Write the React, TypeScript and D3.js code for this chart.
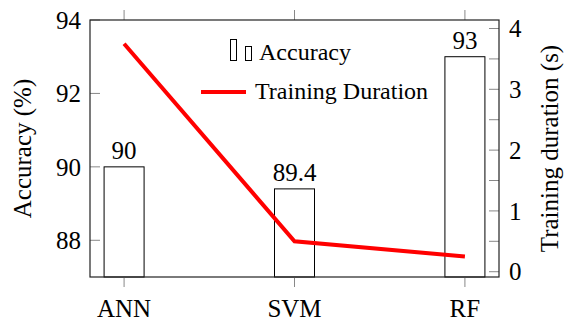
import React from 'react';
import * as d3 from 'd3';

// chart data
const models = ['ANN', 'SVM', 'RF'];
const accuracy = [90, 89.4, 93];
const duration = [3.75, 0.5, 0.25];
const accTicks = [88, 90, 92, 94];
const durTicks = [0, 1, 2, 3, 4];
const durMinor = [0, 0.5, 1, 1.5, 2, 2.5, 3, 3.5, 4];

const W = 564;
const H = 322;
const margin = { top: 20, right: 65, bottom: 45, left: 90 };
const font = '"Liberation Serif", "DejaVu Serif", serif';

export default function App() {
    const x = d3.scalePoint()
        .domain(models)
        .range([margin.left, W - margin.right])
        .padding(0.2);
    const yAcc = d3.scaleLinear()
        .domain([87, 94])
        .range([H - margin.bottom, margin.top]);
    const yDur = d3.scaleLinear()
        .domain([-0.087, 4.14])
        .range([H - margin.bottom, margin.top]);

    const barW = 40;
    const bottom = H - margin.bottom;
    const left = margin.left;
    const right = W - margin.right;

    const line = d3.line<number>()
        .x((d, i) => x(models[i]) as number)
        .y(d => yDur(d));

    const tickColor = '#888';

    return (
        <svg width={W} height={H} style={{ position: 'absolute', left: 0, top: 0 }} fontFamily={font}>
            <rect x={0} y={0} width={W} height={H} fill="white" />

            {/* bars */}
            {models.map((m, i) => (
                <g key={m}>
                    <rect x={(x(m) as number) - barW / 2} y={yAcc(accuracy[i])}
                        width={barW} height={bottom - yAcc(accuracy[i])}
                        fill="white" stroke="black" strokeWidth={1} />
                    <text x={x(m)} y={yAcc(accuracy[i]) - 8} textAnchor="middle" fontSize={25}>
                        {accuracy[i]}
                    </text>
                </g>
            ))}

            {/* left axis ticks */}
            {accTicks.map(t => (
                <g key={'a' + t}>
                    <line x1={left} x2={left + 10} y1={yAcc(t)} y2={yAcc(t)} stroke={tickColor} />
                    <text x={left - 9} y={yAcc(t)} dy="0.35em" textAnchor="end" fontSize={25}>{t}</text>
                </g>
            ))}

            {/* right axis ticks */}
            {durMinor.map(t => (
                <line key={'m' + t} x1={right - 10} x2={right} y1={yDur(t)} y2={yDur(t)} stroke={tickColor} />
            ))}
            {durTicks.map(t => (
                <text key={'d' + t} x={right + 10} y={yDur(t)} dy="0.35em" textAnchor="start" fontSize={25}>{t}</text>
            ))}

            {/* category ticks */}
            {models.map(m => (
                <g key={'c' + m}>
                    <line x1={x(m)} x2={x(m)} y1={bottom} y2={bottom + 10} stroke={tickColor} />
                    <line x1={x(m)} x2={x(m)} y1={margin.top - 10} y2={margin.top} stroke={tickColor} />
                    <text x={x(m)} y={317} textAnchor="middle" fontSize={25}>{m}</text>
                </g>
            ))}

            {/* frame */}
            <rect x={left} y={margin.top} width={right - left} height={bottom - margin.top}
                fill="none" stroke="#222" strokeWidth={1.2} />

            {/* duration line */}
            <path d={line(duration) as string} fill="none" stroke="#ff0000" strokeWidth={4} />

            {/* legend */}
            <rect x={230.5} y={39.5} width={6} height={21} fill="none" stroke="black" strokeWidth={1} />
            <rect x={245.5} y={46.5} width={6} height={14} fill="none" stroke="black" strokeWidth={1} />
            <text x={259} y={60} fontSize={24}>Accuracy</text>
            <line x1={201} x2={246} y1={92} y2={92} stroke="#ff0000" strokeWidth={4} />
            <text x={255} y={99} fontSize={24}>Training Duration</text>

            {/* axis titles */}
            <text transform={`translate(31,${(margin.top + bottom) / 2}) rotate(-90)`}
                textAnchor="middle" fontSize={25}>Accuracy (%)</text>
            <text transform={`translate(558,${(margin.top + bottom) / 2}) rotate(-90)`}
                textAnchor="middle" fontSize={25}>Training duration (s)</text>
        </svg>
    );
}
